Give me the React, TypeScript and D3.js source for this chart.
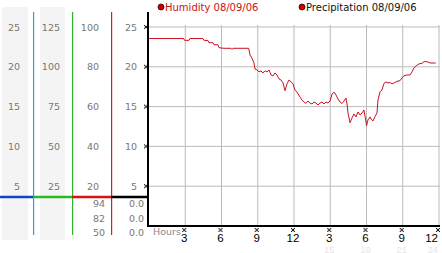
import React from "react";
import * as d3 from "d3";

const hours = [0,2.87,2.94,3.31,3.39,4.47,4.55,4.88,4.97,5.3,5.38,5.71,5.79,6.21,6.79,6.87,6.95,8.25,8.36,8.52,8.69,8.77,8.94,9.1,9.27,9.43,9.6,9.77,9.93,10.1,10.26,10.43,10.59,10.76,10.92,11.09,11.26,11.42,11.59,11.75,11.92,12.08,12.25,12.5,12.66,12.83,12.99,13.16,13.32,13.49,13.66,13.82,13.99,14.15,14.32,14.48,14.65,14.81,14.98,15.15,15.31,15.48,15.64,15.81,15.97,16.14,16.3,16.39,16.47,16.64,16.8,16.97,17.13,17.3,17.46,17.63,17.79,18.01,18.12,18.29,18.37,18.54,18.7,18.87,18.95,19.12,19.28,19.45,19.61,19.78,19.95,20.11,20.28,20.44,20.61,20.77,20.94,21.1,21.35,21.6,21.77,21.93,22.1,22.26,22.43,22.59,22.76,22.93,23.09,23.26,23.73];
const humidity = [94.2,94.2,93.3,93.3,94.2,94.2,93.3,93.2,92.1,92.1,91.1,91.1,89.6,89.3,89.3,88.7,89.3,89.3,85.9,84.4,81.9,78.9,78.4,77.5,77.9,76.9,78,77.4,78.4,75.9,75.4,76.9,75.9,73.9,73.4,71.9,68,71.4,73.4,72.4,71.4,68.3,67.3,64.8,63.3,62.3,61.6,62.8,61.8,61.3,62.3,61.8,60.8,61.8,62.3,61.3,62.3,61.8,62.8,66.3,67.3,65.8,63.8,62.3,61.5,62.8,64.3,61.3,56.8,51.9,54.3,56.3,54.8,57.3,55.8,56.8,58.3,50.4,53.3,54.8,53.8,52.8,54.9,56.8,63.3,67.5,68.3,71.7,72.4,71.9,72.1,71.4,71.9,72.4,72.9,73,74.4,75.5,75.9,75.9,77.4,79.5,80.4,81.2,81.6,81.7,82.6,82.6,82.4,81.9,81.9];

const col1Ticks = [25, 20, 15, 10, 5];
const col2Ticks = [125, 100, 75, 50, 25];
const col3Ticks = [100, 80, 60, 40, 20];
const col4Ticks = [25, 20, 15, 10, 5];
const humidityStats = ["94", "82", "50"];
const precipStats = ["0.0", "0.0", "0.0"];
const xTicks = [3, 6, 9, 12, 15, 18, 21, 24];
const xTickLabels = ["3", "6", "9", "12", "3", "6", "9", "12"];
const faintTicks = [15, 18, 21, 24];
const gridY = [25, 20, 15, 10, 5];

const x = d3.scaleLinear().domain([0, 24]).range([149, 439]);
const yL = d3.scaleLinear().domain([0, 25]).range([226, 27]);
const yH = d3.scaleLinear().domain([0, 100]).range([226, 27]);

const FONT = "DejaVu Sans, Verdana, sans-serif";
const AXF = "Liberation Sans, Arial, sans-serif";

function Mark({ cx, cy }: { cx: number; cy: number }) {
  const px = [[0,0],[3,0],[1,1],[2,1],[1,2],[2,2],[0,3],[3,3]];
  return (
    <g>
      <rect x={cx - 2} y={cy - 2} width={4} height={4} fill="#888" opacity={0.35} />
      {px.map(([a, b], i) => (
        <rect key={i} x={cx - 2 + a} y={cy - 2 + b} width={1} height={1} fill="#222" />
      ))}
    </g>
  );
}

export default function App() {
  const line = d3
    .line<number>()
    .x((_, i) => x(hours[i]))
    .y((d) => yH(d));
  const path = line(humidity) || "";
  const numStyle = { fontFamily: FONT, fontSize: 9.5, fill: "#777" } as const;
  return (
    <svg width={442} height={253} style={{ position: "absolute", left: 0, top: 0, background: "#fff" }}>
      <rect x={0} y={0} width={442} height={253} fill="#fff" />
      {/* column backgrounds */}
      <rect x={2} y={7} width={26} height={233} fill="#f4f4f4" />
      <rect x={40} y={7} width={25} height={233} fill="#f4f4f4" />
      {/* grid */}
      {gridY.map((v) => (
        <line key={"gy" + v} x1={149} x2={440} y1={yL(v)} y2={yL(v)} stroke="#bbb" strokeWidth={1} />
      ))}
      {xTicks.map((h) => (
        <line key={"gx" + h} x1={x(h)} x2={x(h)} y1={25} y2={226} stroke="#bbb" strokeWidth={1} />
      ))}
      {/* column lines */}
      <rect x={33} y={12} width={1.2} height={223} fill="#1aa8d8" />
      <rect x={72} y={12} width={1.2} height={223} fill="#2db52d" />
      <rect x={111} y={12} width={1.2} height={223} fill="#d02020" />
      {/* separator */}
      <line x1={0} x2={33} y1={197} y2={197} stroke="#1144cc" strokeWidth={2.5} />
      <line x1={33} x2={72} y1={197} y2={197} stroke="#22bb22" strokeWidth={2.5} />
      <line x1={72} x2={111} y1={197} y2={197} stroke="#dd1111" strokeWidth={2.5} />
      <line x1={111} x2={148} y1={197} y2={197} stroke="#000" strokeWidth={2.5} />
      {/* column labels */}
      {col1Ticks.map((v) => (
        <text key={"c1" + v} x={20} y={yL(v) + 3.5} textAnchor="end" {...numStyle}>{v}</text>
      ))}
      {col2Ticks.map((v, i) => (
        <text key={"c2" + v} x={60} y={yL(col1Ticks[i]) + 3.5} textAnchor="end" {...numStyle}>{v}</text>
      ))}
      {col3Ticks.map((v, i) => (
        <text key={"c3" + v} x={99} y={yL(col1Ticks[i]) + 3.5} textAnchor="end" {...numStyle}>{v}</text>
      ))}
      {col4Ticks.map((v) => (
        <text key={"c4" + v} x={137} y={yL(v) + 3.5} textAnchor="end" {...numStyle}>{v}</text>
      ))}
      {humidityStats.map((s, i) => (
        <text key={"hs" + i} x={105} y={207 + i * 14.5} textAnchor="end" {...numStyle}>{s}</text>
      ))}
      {precipStats.map((s, i) => (
        <text key={"ps" + i} x={144} y={207 + i * 14.5} textAnchor="end" {...numStyle}>{s}</text>
      ))}
      {/* y tick marks */}
      {gridY.map((v) => (
        <Mark key={"ym" + v} cx={146} cy={yL(v)} />
      ))}
      {/* axes */}
      <line x1={148} x2={148} y1={12} y2={227} stroke="#000" strokeWidth={2} />
      <line x1={148} x2={440} y1={226} y2={226} stroke="#000" strokeWidth={2} />
      {/* x ticks */}
      <text x={153} y={235} fontFamily={FONT} fontSize={9.5} fill="#888">Hours</text>
      {xTicks.map((h, i) => {
        const last = i === xTicks.length - 1;
        return (
          <g key={"xt" + h}>
            <Mark cx={x(h) - 1} cy={230} />
            <text x={last ? 438 : x(h) - 1} y={242} textAnchor={last ? "end" : "middle"} fontFamily={AXF} fontSize={11.5} fill="#000">
              {xTickLabels[i]}
            </text>
          </g>
        );
      })}
      {faintTicks.map((h, i) => {
        const last = i === faintTicks.length - 1;
        return (
          <text key={"ft" + h} x={last ? 438 : x(h) - 1} y={252.5} textAnchor={last ? "end" : "middle"} fontFamily={AXF} fontSize={9.5} fill="#e6e6e6">
            {h}
          </text>
        );
      })}
      {/* data line */}
      <path d={path} fill="none" stroke="#cc1122" strokeWidth={1} />
      {/* legend */}
      <circle cx={161} cy={7} r={3} fill="#cc0000" stroke="#330000" strokeWidth={0.8} />
      <text x={165} y={11} fontFamily={FONT} fontSize={10} fill="#cc1111">Humidity 08/09/06</text>
      <circle cx={302} cy={7} r={3} fill="#cc0000" stroke="#330000" strokeWidth={0.8} />
      <text x={306} y={11} fontFamily={FONT} fontSize={10} fill="#111">Precipitation 08/09/06</text>
    </svg>
  );
}
